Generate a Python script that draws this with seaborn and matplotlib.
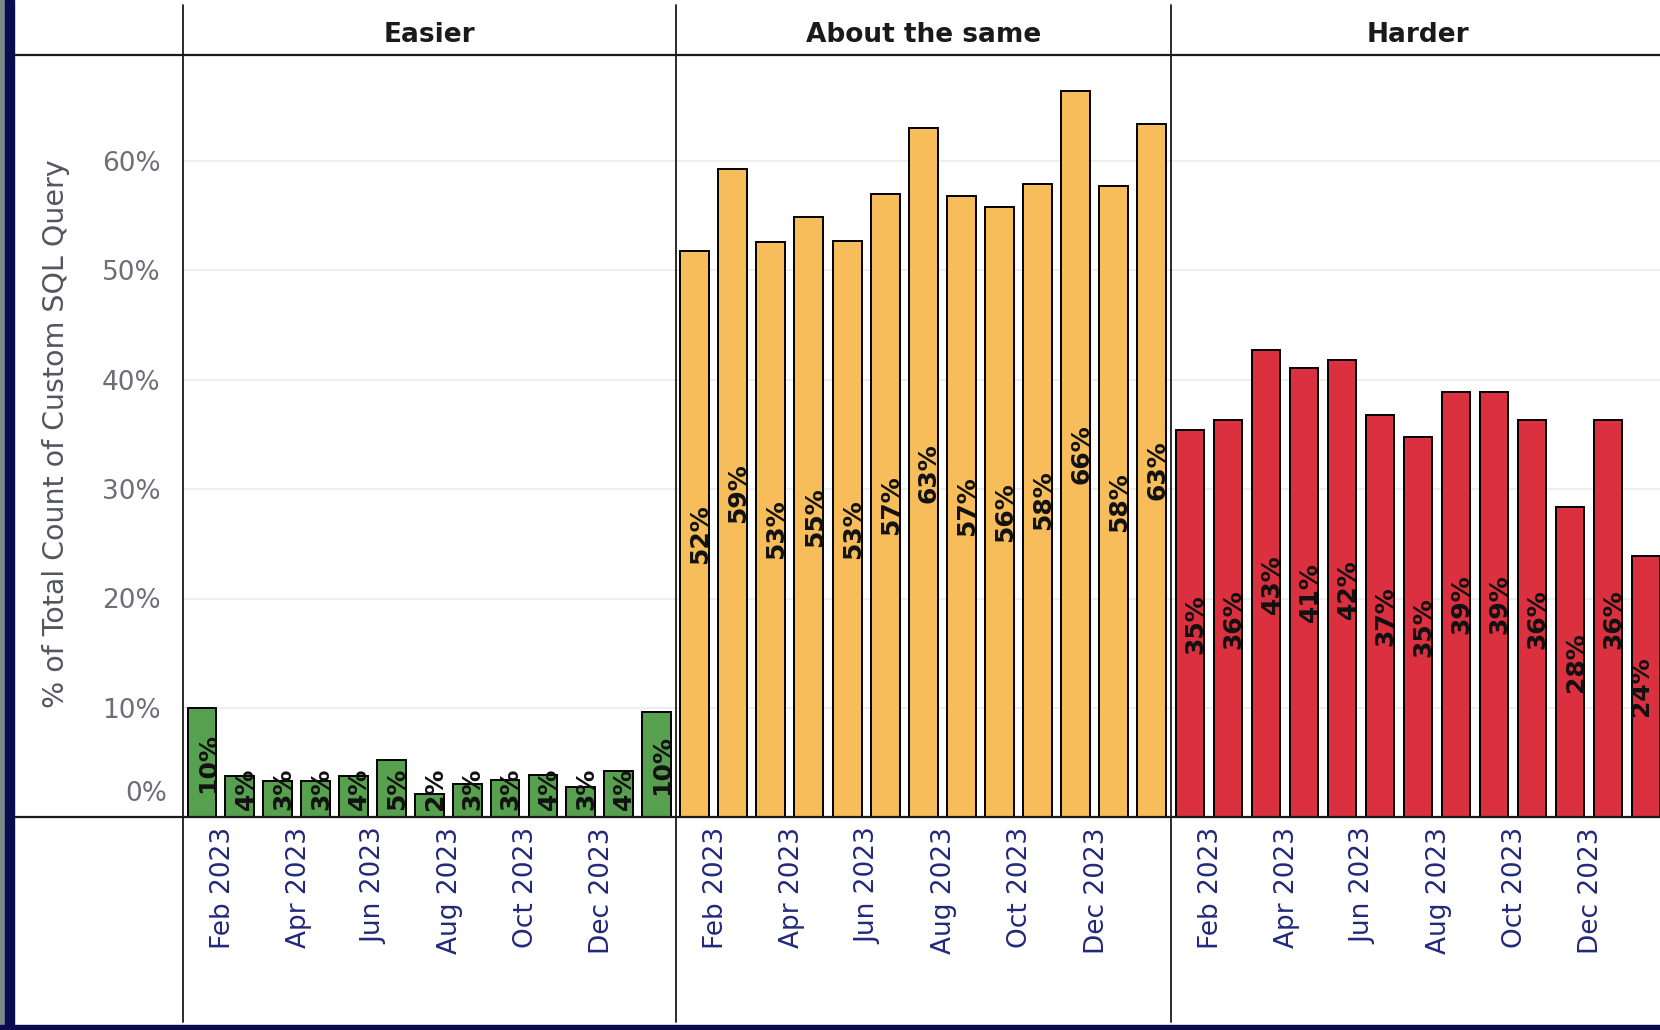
import matplotlib
matplotlib.use('Agg')
import matplotlib.pyplot as plt
from matplotlib.lines import Line2D
from matplotlib.patches import Rectangle
import pandas as pd
import seaborn as sns

months = ['Feb 2023', 'Mar 2023', 'Apr 2023', 'May 2023', 'Jun 2023', 'Jul 2023', 'Aug 2023',
          'Sep 2023', 'Oct 2023', 'Nov 2023', 'Dec 2023', 'Jan 2024', 'Feb 2024']
easier = [10.0, 3.8, 3.3, 3.3, 3.8, 5.2, 2.1, 3.0, 3.4, 3.9, 2.8, 4.2, 9.6]
same = [51.8, 59.3, 52.6, 54.9, 52.7, 57.0, 63.0, 56.8, 55.8, 57.9, 66.4, 57.7, 63.4]
harder = [35.4, 36.3, 42.7, 41.1, 41.8, 36.8, 34.8, 38.9, 38.9, 36.3, 28.4, 36.3, 23.9]
panels = ['Easier', 'About the same', 'Harder']
colors = ['#57a04f', '#f7bd5a', '#da303f']
shown_ticks = ['Feb 2023', 'Apr 2023', 'Jun 2023', 'Aug 2023', 'Oct 2023', 'Dec 2023']
yticks = [0, 10, 20, 30, 40, 50, 60]

df = pd.DataFrame({
    'month': months * 3,
    'pct': easier + same + harder,
    'panel': [p for p in panels for _ in months],
})

sns.set_style('white')
plt.rcParams['font.family'] = ['DejaVu Sans']

W, H = 1660, 1030
fig = plt.figure(figsize=(W / 100, H / 100), dpi=100)

# layout in pixels
lefts = [183, 675.5, 1171]
widths = [492.5, 495.5, 494]
top, zero = 55, 817.3
ytop = (zero - top) / 10.94
navy = '#22287a'

for i, (name, col) in enumerate(zip(panels, colors)):
    ax = fig.add_axes([lefts[i] / W, 1 - zero / H, widths[i] / W, (zero - top) / H])
    sub = df[df['panel'] == name]
    sns.barplot(data=sub, x='month', y='pct', order=months, color=col, saturation=1,
                edgecolor='black', linewidth=1.4, width=0.76, ax=ax, zorder=3)
    ax.set_xlim(-0.5, len(months) - 0.5)
    ax.set_ylim(0, ytop)
    ax.set_yticks(yticks)
    ax.yaxis.grid(True, color='#ebebeb', linewidth=1.2, zorder=0)
    ax.set_axisbelow(True)
    for s in ax.spines.values():
        s.set_visible(False)
    ax.set_xlabel('')
    ax.set_ylabel('')
    pos = [months.index(m) + 0.55 for m in shown_ticks]
    ax.set_xticks(pos)
    ax.set_xticklabels(shown_ticks, rotation=90, fontsize=19, color=navy)
    ax.tick_params(axis='x', length=0, pad=7)
    # value labels, kept above the baseline like the original
    for j, v in enumerate(sub['pct']):
        # the last Harder bar is cut by the window edge, keep its label inside
        dx = -0.12 if (i == 2 and j == len(months) - 1) else 0.15
        ax.text(j + dx, max(v / 2, 2.6), f'{v:.0f}%', rotation=90, ha='center', va='center',
                fontsize=18, fontweight='bold', color='#111111', zorder=5)
    # header
    fig.text((lefts[i] + widths[i] / 2) / W, 1 - 35 / H, name, ha='center', va='center',
             fontsize=19, fontweight='bold', color='#1a1a1a')
    if i == 0:
        ax.set_yticklabels([''] + [f'{t}%' for t in yticks[1:]], fontsize=19, color='#6e6e78')
        ax.tick_params(axis='y', length=10, color='#e3e3e3', pad=6)
        ax.annotate('0%', xy=(0, 0), xycoords=('axes fraction', 'data'),
                    xytext=(-16, 23), textcoords='offset pixels', ha='right', va='center',
                    fontsize=19, color='#6e6e78')
    else:
        ax.set_yticklabels([])
        ax.tick_params(axis='y', length=0)

fig.text(56 / W, 1 - 434 / H, '% of Total Count of Custom SQL Query', rotation=90,
         ha='center', va='center', fontsize=20.5, color='#555560')

# frame lines
for x in lefts:
    fig.add_artist(Line2D([x / W, x / W], [1 - 5 / H, 1 - 1022 / H], color='#1a1a1a', lw=1.3))
for y in [top, zero]:
    fig.add_artist(Line2D([15 / W, 1], [1 - y / H, 1 - y / H], color='#1a1a1a', lw=1.6))

# window border
fig.add_artist(Rectangle((0, 0), 5 / W, 1, color='#7a8a86', transform=fig.transFigure))
fig.add_artist(Rectangle((5 / W, 0), 9 / W, 1, color='#0b0b4f', transform=fig.transFigure))
fig.add_artist(Rectangle((0, 0), 1, 5 / H, color='#0b0b4f', transform=fig.transFigure))

fig.savefig('out.png', dpi=100)
